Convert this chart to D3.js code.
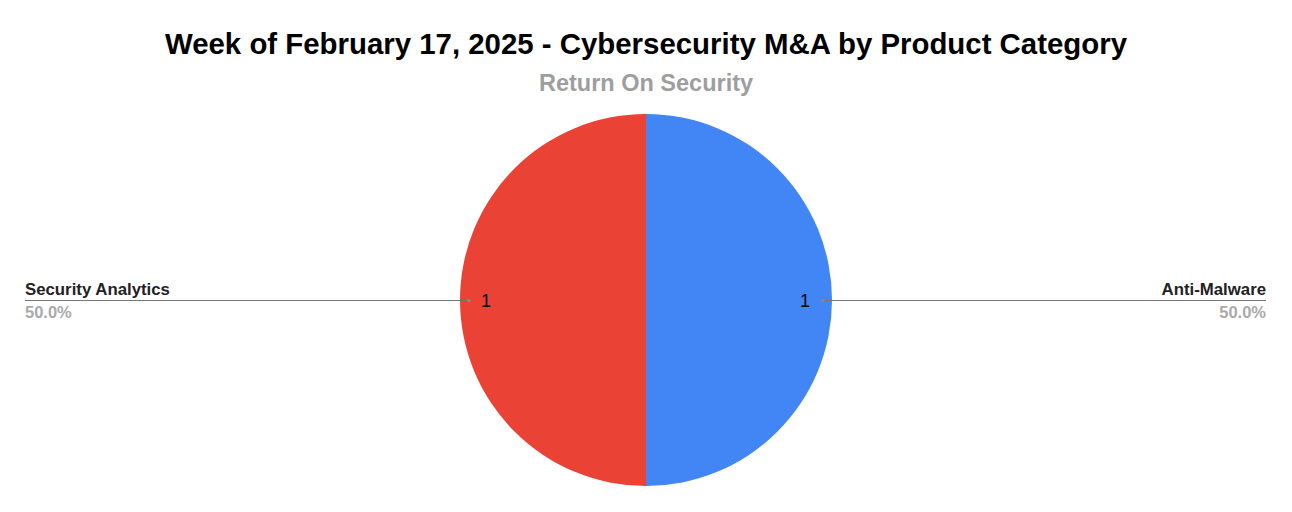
<!DOCTYPE html>
<html>
<head>
<meta charset="utf-8">
<script src="https://cdn.jsdelivr.net/npm/d3@7"></script>
<style>
  body { margin: 0; background: #fff; }
  text { font-family: "Liberation Sans", Arial, sans-serif; }
</style>
</head>
<body>
<svg id="chart" width="1292" height="512"></svg>
<script>
// data
var categories = ["Anti-Malware", "Security Analytics"];
var values = [1, 1];
var colors = ["#4285F4", "#EA4335"];

var cx = 646, cy = 300, R = 186;

var svg = d3.select("#chart");

svg.append("text")
    .attr("x", cx).attr("y", 54)
    .attr("text-anchor", "middle")
    .attr("font-size", 29.4).attr("font-weight", "bold")
    .attr("fill", "#000")
    .text("Week of February 17, 2025 - Cybersecurity M&A by Product Category");

svg.append("text")
    .attr("x", cx).attr("y", 91)
    .attr("text-anchor", "middle")
    .attr("font-size", 23.5).attr("font-weight", "bold")
    .attr("fill", "#9e9e9e")
    .text("Return On Security");

var data = categories.map(function(c, i){ return {name: c, value: values[i], color: colors[i]}; });
var total = d3.sum(values);

var pie = d3.pie().sort(null).value(function(d){ return d.value; });
var arc = d3.arc().innerRadius(0).outerRadius(R);
var arcs = pie(data);

var g = svg.append("g").attr("transform", "translate(" + cx + "," + cy + ")");

g.selectAll("path.slice")
    .data(arcs)
    .enter()
    .append("path").classed("slice", true)
        .attr("d", arc)
        .attr("fill", function(d){ return d.data.color; });

// labels
arcs.forEach(function(a){
    var mid = (a.startAngle + a.endAngle) / 2;
    var right = Math.sin(mid) > 0;
    var dotX = Math.sin(mid) * (R - 9);
    var dotY = -Math.cos(mid) * (R - 9) + 0.5;
    var endX = right ? (1266 - cx) : (25 - cx);

    g.append("line")
        .attr("x1", dotX).attr("y1", dotY)
        .attr("x2", endX).attr("y2", dotY)
        .attr("stroke", "#777").attr("stroke-width", 1);
    g.append("circle")
        .attr("cx", dotX).attr("cy", dotY).attr("r", 1.8)
        .attr("fill", "#888");

    g.append("text")
        .attr("x", right ? dotX - 13 : dotX + 12)
        .attr("y", dotY + 6.5)
        .attr("text-anchor", right ? "end" : "start")
        .attr("font-size", 18)
        .attr("fill", "#000")
        .text(a.data.value);

    g.append("text")
        .attr("x", endX).attr("y", dotY - 5.5)
        .attr("text-anchor", right ? "end" : "start")
        .attr("font-size", 16.8).attr("font-weight", "bold")
        .attr("fill", "#222")
        .text(a.data.name);

    g.append("text")
        .attr("x", endX).attr("y", dotY + 17.5)
        .attr("text-anchor", right ? "end" : "start")
        .attr("font-size", 16.5).attr("font-weight", "bold")
        .attr("fill", "#aaa")
        .text(d3.format(".1%")(a.data.value / total));
});
</script>
</body>
</html>
